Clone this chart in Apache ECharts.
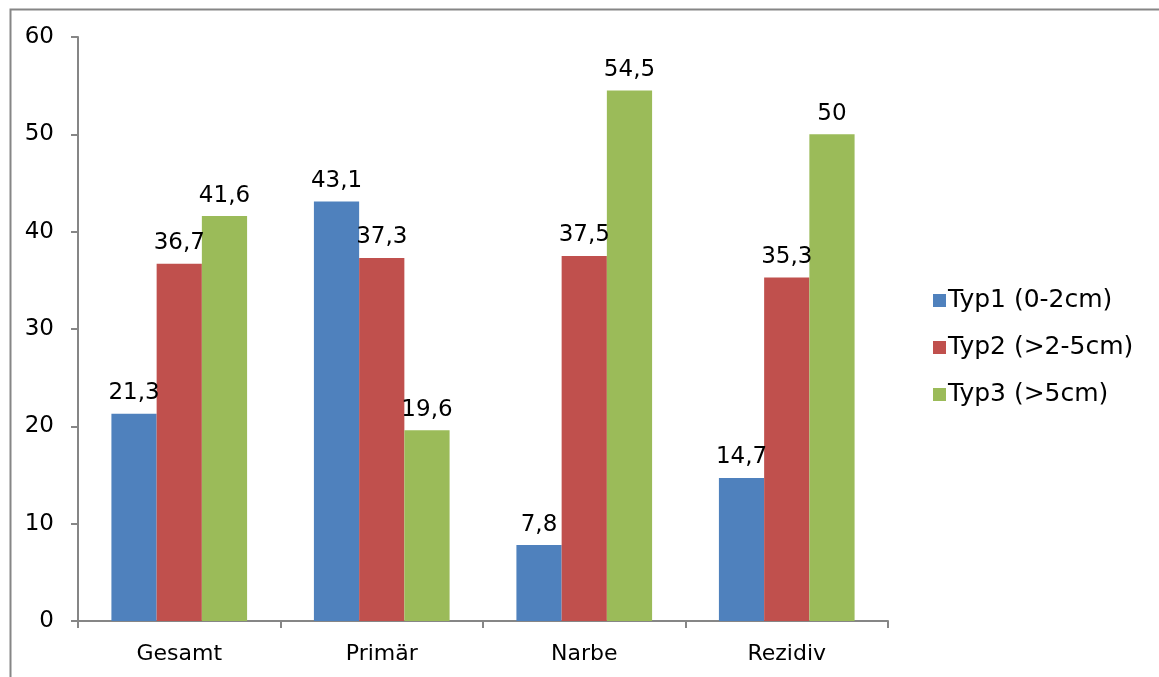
<!DOCTYPE html>
<html>
<head>
<meta charset="utf-8">
<script src="https://cdn.jsdelivr.net/npm/echarts@6/dist/echarts.min.js"></script>
<style>
html, body { margin: 0; padding: 0; background: #fff; }
#chart { width: 1159px; height: 677px; }
</style>
</head>
<body>
<div id="chart"></div>
<script>
var categories = ['Gesamt', 'Primär', 'Narbe', 'Rezidiv'];
var seriesNames = ['Typ1 (0-2cm)', 'Typ2 (>2-5cm)', 'Typ3 (>5cm)'];
var typ1 = [21.3, 43.1, 7.8, 14.7];
var typ2 = [36.7, 37.3, 37.5, 35.3];
var typ3 = [41.6, 19.6, 54.5, 50];
var colors = ['#4F81BD', '#C0504D', '#9BBB59'];

var fontFam = '"DejaVu Sans", Verdana, sans-serif';

function makeSeries(name, data, color) {
    return {
        name: name,
        type: 'bar',
        data: data,
        barGap: 0,
        barCategoryGap: '33%',
        itemStyle: { color: color },
        label: {
            show: true,
            position: 'top',
            distance: 9,
            color: '#000',
            fontFamily: fontFam,
            fontSize: 23,
            formatter: function (p) {
                return String(p.value).replace('.', ',');
            }
        }
    };
}

var myChart = echarts.init(document.getElementById('chart'));
var option = {
    animation: false,
    backgroundColor: '#fff',
    color: colors,
    graphic: [{
        type: 'rect',
        left: 8,
        top: 7,
        shape: { width: 1170, height: 700 },
        style: { fill: 'none', stroke: '#868686', lineWidth: 2 },
        silent: true
    }],
    grid: { left: 78, right: 271, top: 37, bottom: 56 },
    legend: {
        orient: 'vertical',
        left: 928,
        top: 283,
        itemWidth: 13,
        itemHeight: 13,
        itemGap: 22,
        icon: 'rect',
        textStyle: { color: '#000', fontFamily: fontFam, fontSize: 25, padding: [0, 0, 0, -3] },
        data: seriesNames
    },
    xAxis: {
        type: 'category',
        data: categories,
        axisLine: { lineStyle: { color: '#868686', width: 2 } },
        axisTick: { show: true, length: 7, lineStyle: { color: '#868686', width: 2 } },
        axisLabel: { color: '#000', fontFamily: fontFam, fontSize: 22, margin: 22 }
    },
    yAxis: {
        type: 'value',
        min: 0,
        max: 60,
        interval: 10,
        axisLine: { show: true, lineStyle: { color: '#868686', width: 2 } },
        axisTick: { show: true, length: 7, lineStyle: { color: '#868686', width: 2 } },
        splitLine: { show: false },
        axisLabel: { color: '#000', fontFamily: fontFam, fontSize: 23, margin: 24 }
    },
    series: [
        makeSeries(seriesNames[0], typ1, colors[0]),
        makeSeries(seriesNames[1], typ2, colors[1]),
        makeSeries(seriesNames[2], typ3, colors[2])
    ]
};
myChart.setOption(option);
</script>
</body>
</html>
